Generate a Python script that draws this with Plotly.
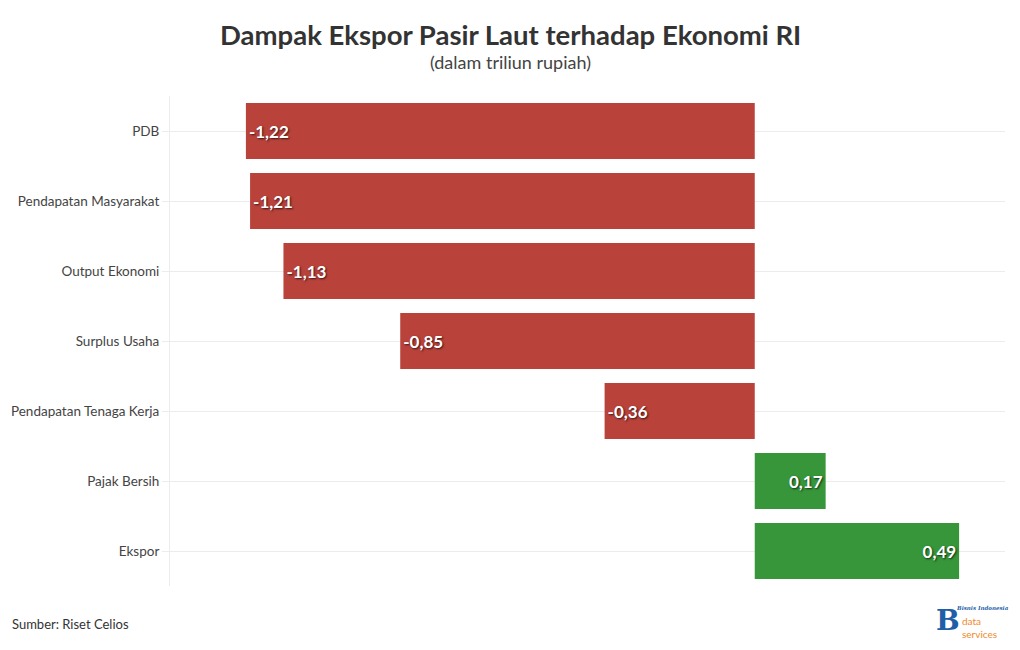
import plotly.graph_objects as go

categories = ["PDB", "Pendapatan Masyarakat", "Output Ekonomi", "Surplus Usaha",
              "Pendapatan Tenaga Kerja", "Pajak Bersih", "Ekspor"]
values = [-1.22, -1.21, -1.13, -0.85, -0.36, 0.17, 0.49]

RED = "#b9423b"
GREEN = "#369639"
FONT = "Source Sans Pro, Lato, Noto Sans, sans-serif"

colors = [RED if v < 0 else GREEN for v in values]
labels = [f"{v:.2f}".replace(".", ",") for v in values]

fig = go.Figure(go.Bar(
    x=values, y=categories, orientation="h",
    marker=dict(color=colors, line=dict(width=0)),
    width=0.8,
    text=labels, textposition="inside", insidetextanchor="end",
    textfont=dict(family=FONT, size=17, color="white", weight="bold",
                  shadow="1px 1px 2px rgba(0,0,0,0.7)"),
    cliponaxis=False, hoverinfo="skip",
))

fig.update_layout(
    width=1020, height=650,
    margin=dict(l=170, r=15, t=96, b=64),
    paper_bgcolor="white", plot_bgcolor="white",
    font=dict(family=FONT, color="#444"),
    showlegend=False,
    bargap=0.2,
)
fig.update_xaxes(range=[-1.402, 0.6], showgrid=False, zeroline=False,
                 showticklabels=False, fixedrange=True)
fig.update_yaxes(autorange="reversed", showgrid=True, gridcolor="#ececec",
                 ticks="outside", ticklen=7, tickcolor="#ececec",
                 showline=True, linecolor="#ececec",
                 tickfont=dict(size=13.5, color="#444", family=FONT))

TITLE_X = (510 - 170) / 835
fig.add_annotation(text="<b>Dampak Ekspor Pasir Laut terhadap Ekonomi RI</b>",
                   xref="paper", yref="paper", x=TITLE_X, xanchor="center",
                   y=1, yshift=62, yanchor="middle", showarrow=False,
                   font=dict(size=27.5, color="#333", family=FONT))
fig.add_annotation(text="(dalam triliun rupiah)", xref="paper", yref="paper",
                   x=TITLE_X, xanchor="center", y=1, yshift=34, yanchor="middle",
                   showarrow=False, font=dict(size=18, color="#444", family=FONT))
fig.add_annotation(text="Sumber: Riset Celios", xref="paper", yref="paper",
                   x=0, xshift=-160, xanchor="left", y=0, yshift=-38,
                   yanchor="middle", showarrow=False,
                   font=dict(size=13, color="#333", family=FONT))
# logo rendered as text
fig.add_annotation(text="<b>B</b>", xref="paper", yref="paper", x=1, xshift=-57,
                   xanchor="center", y=0, yshift=-34, yanchor="middle", showarrow=False,
                   font=dict(size=28, color="#1f5fa8", family="DejaVu Serif"))
fig.add_annotation(text="<b><i>Bisnis Indonesia</i></b>", xref="paper", yref="paper",
                   x=1, xshift=5, xanchor="right", y=0, yshift=-22, yanchor="middle",
                   showarrow=False, borderpad=0,
                   font=dict(size=5.5, color="#1f5fa8", family="DejaVu Serif"))
fig.add_annotation(text="data<br>services", xref="paper", yref="paper",
                   x=1, xshift=-44, xanchor="left", y=0, yshift=-41, yanchor="middle",
                   showarrow=False, align="left", borderpad=0,
                   font=dict(size=10, color="#f08a2c", family=FONT))

fig.write_html("out.html")
